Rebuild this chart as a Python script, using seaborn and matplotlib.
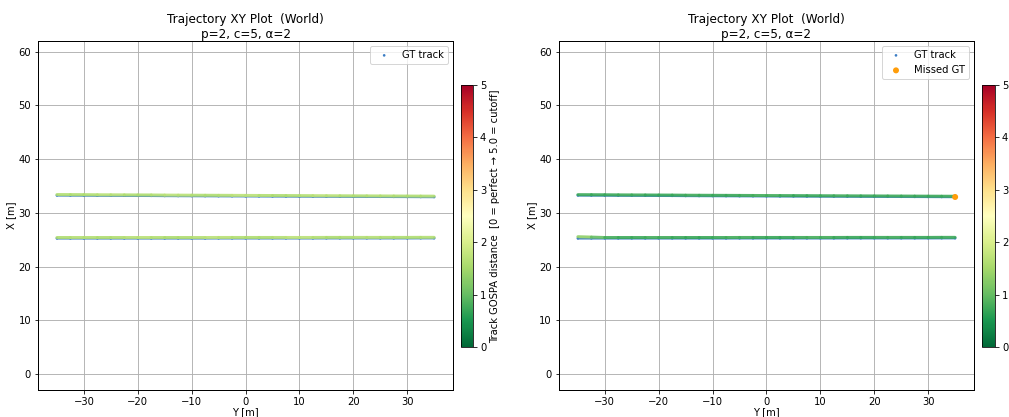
import numpy as np
import matplotlib
matplotlib.use("Agg")
import matplotlib.pyplot as plt
import seaborn as sns
import pandas as pd
from matplotlib.collections import LineCollection
from matplotlib.colors import Normalize
from matplotlib.cm import ScalarMappable

# Sample stations along the road (lateral Y, metres)
y_stations = [-35.0, -32.5, -30.0, -27.5, -25.0, -22.5, -20.0, -17.5, -15.0, -12.5,
              -10.0, -7.5, -5.0, -2.5, 0.0, 2.5, 5.0, 7.5, 10.0, 12.5,
              15.0, 17.5, 20.0, 22.5, 25.0, 27.5, 30.0, 32.5, 35.0]

# Ground-truth longitudinal position X for the two vehicles
gt_x_a = [33.25, 33.24, 33.23, 33.21, 33.20, 33.19, 33.18, 33.17, 33.15, 33.14,
          33.13, 33.12, 33.11, 33.10, 33.09, 33.08, 33.07, 33.06, 33.05, 33.04,
          33.03, 33.02, 33.01, 33.00, 32.99, 32.98, 32.97, 32.96, 32.95]
gt_x_b = [25.25, 25.25, 25.25, 25.25, 25.25, 25.25, 25.25, 25.25, 25.25, 25.25,
          25.25, 25.25, 25.26, 25.26, 25.26, 25.26, 25.26, 25.26, 25.26, 25.26,
          25.27, 25.27, 25.27, 25.27, 25.27, 25.27, 25.27, 25.28, 25.28]

# Estimated tracks (left run)
est_l_x_a = [33.40, 33.39, 33.38, 33.36, 33.35, 33.34, 33.33, 33.32, 33.30, 33.29,
             33.28, 33.27, 33.26, 33.25, 33.24, 33.23, 33.22, 33.21, 33.20, 33.19,
             33.18, 33.17, 33.16, 33.15, 33.14, 33.13, 33.12, 33.11, 33.10]
est_l_x_b = [25.40, 25.40, 25.40, 25.40, 25.40, 25.40, 25.40, 25.40, 25.40, 25.40,
             25.40, 25.40, 25.41, 25.41, 25.41, 25.41, 25.41, 25.41, 25.41, 25.41,
             25.42, 25.42, 25.42, 25.42, 25.42, 25.42, 25.42, 25.43, 25.43]
dist_l_a = [1.60, 1.62, 1.58, 1.65, 1.70, 1.62, 1.55, 1.60, 1.68, 1.72,
            1.65, 1.58, 1.62, 1.70, 1.75, 1.68, 1.60, 1.55, 1.62, 1.66,
            1.70, 1.64, 1.58, 1.60, 1.66, 1.62, 1.58, 1.60, 1.62]
dist_l_b = [1.55, 1.62, 1.68, 1.60, 1.58, 1.65, 1.70, 1.66, 1.60, 1.55,
            1.62, 1.68, 1.72, 1.65, 1.60, 1.58, 1.62, 1.70, 1.74, 1.66,
            1.60, 1.56, 1.62, 1.68, 1.64, 1.60, 1.58, 1.62, 1.65]

# Estimated tracks (right run)
est_r_x_a = [33.38, 33.37, 33.36, 33.34, 33.33, 33.32, 33.31, 33.30, 33.28, 33.27,
             33.26, 33.25, 33.24, 33.23, 33.22, 33.21, 33.20, 33.19, 33.18, 33.17,
             33.16, 33.15, 33.14, 33.13, 33.12, 33.11, 33.10, 33.09, 33.08]
est_r_x_b = [25.55, 25.48, 25.40, 25.40, 25.40, 25.40, 25.40, 25.40, 25.40, 25.40,
             25.40, 25.40, 25.41, 25.41, 25.41, 25.41, 25.41, 25.41, 25.41, 25.41,
             25.42, 25.42, 25.42, 25.42, 25.42, 25.42, 25.42, 25.43, 25.43]
dist_r_a = [0.75, 0.72, 0.70, 0.74, 0.78, 0.72, 0.68, 0.70, 0.74, 0.76,
            0.72, 0.70, 0.73, 0.77, 0.80, 0.75, 0.70, 0.68, 0.72, 0.74,
            0.76, 0.72, 0.70, 0.71, 0.74, 0.72, 0.70, 0.72, 0.74]
dist_r_b = [1.45, 1.20, 0.80, 0.74, 0.72, 0.75, 0.78, 0.74, 0.70, 0.68,
            0.72, 0.76, 0.80, 0.74, 0.70, 0.68, 0.72, 0.78, 0.80, 0.74,
            0.70, 0.68, 0.72, 0.76, 0.74, 0.70, 0.69, 0.72, 0.74]

# Ground-truth object with no assigned track (right run)
missed_y = [35.0]
missed_x = [32.95]

GOSPA_P, GOSPA_C, GOSPA_ALPHA = 2, 5, 2
title = f"Trajectory XY Plot  (World)\np={GOSPA_P}, c={GOSPA_C}, α={GOSPA_ALPHA}"
cbar_label = f"Track GOSPA distance  [0 = perfect → {GOSPA_C:.1f} = cutoff]"

cmap = plt.get_cmap("RdYlGn_r")
norm = Normalize(vmin=0, vmax=GOSPA_C)

fig = plt.figure(figsize=(1009 / 72, 417 / 72), dpi=72)

ax_l = fig.add_axes([0.0377, 0.0647, 0.4113, 0.8370])
cb_l = fig.add_axes([0.4569, 0.1679, 0.0119, 0.6283])
ax_r = fig.add_axes([0.5540, 0.0647, 0.4113, 0.8370])
cb_r = fig.add_axes([0.9732, 0.1679, 0.0129, 0.6283])


def gt_frame():
    return pd.DataFrame({
        "Y": y_stations * 2,
        "X": gt_x_a + gt_x_b,
        "track": ["a"] * len(y_stations) + ["b"] * len(y_stations),
    })


def draw_estimate(ax, xs, dists):
    pts = np.column_stack([y_stations, xs]).reshape(-1, 1, 2)
    segs = np.concatenate([pts[:-1], pts[1:]], axis=1)
    seg_vals = 0.5 * (np.asarray(dists[:-1]) + np.asarray(dists[1:]))
    lc = LineCollection(segs, cmap=cmap, norm=norm, linewidths=3.0,
                        capstyle="round", zorder=3, alpha=0.9)
    lc.set_array(seg_vals)
    lc.set_snap(False)
    ax.add_collection(lc)


def draw_panel(ax, cax, est_a, est_b, dist_a, dist_b, with_missed):
    df = gt_frame()
    for _, g in df.groupby("track"):
        ln, = ax.plot(g["Y"], g["X"] - 0.08, color="#4a86c8", lw=1.6, zorder=2,
                      solid_capstyle="round")
        ln.set_snap(False)
    sns.scatterplot(data=df, x="Y", y="X", ax=ax, color="#3b7dc4", s=7,
                    edgecolor="none", label="GT track", zorder=2)
    draw_estimate(ax, est_a, dist_a)
    draw_estimate(ax, est_b, dist_b)
    if with_missed:
        sns.scatterplot(x=missed_y, y=missed_x, ax=ax, color="#ff9d0a", s=36,
                        edgecolor="none", label="Missed GT", zorder=5)
    ax.set_xlim(-38.5, 38.5)
    ax.set_ylim(-3, 62)
    ax.set_xticks([-30, -20, -10, 0, 10, 20, 30])
    ax.set_yticks([0, 10, 20, 30, 40, 50, 60])
    ax.grid(True, color="#b0b0b0", lw=0.9)
    ax.set_axisbelow(True)
    ax.set_xlabel("Y [m]", labelpad=0)
    ax.set_ylabel("X [m]", labelpad=2)
    ax.set_title(title, fontsize=12, pad=2)
    for s in ax.spines.values():
        s.set_color("black")
        s.set_linewidth(1.0)
    ax.legend(loc="upper right", markerscale=1.0, framealpha=0.8,
              fontsize=10, borderpad=0.4, handletextpad=0.8)
    sm = ScalarMappable(norm=norm, cmap=cmap)
    cb = fig.colorbar(sm, cax=cax)
    cb.set_ticks([0, 1, 2, 3, 4, 5])
    cb.set_label(cbar_label, fontsize=10, labelpad=3.5)


draw_panel(ax_l, cb_l, est_l_x_a, est_l_x_b, dist_l_a, dist_l_b, False)
draw_panel(ax_r, cb_r, est_r_x_a, est_r_x_b, dist_r_a, dist_r_b, True)

fig.savefig("out.png", dpi=72)
